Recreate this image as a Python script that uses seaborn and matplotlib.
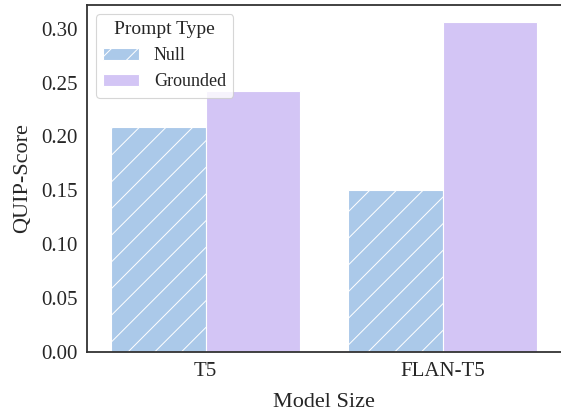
import pandas as pd
import matplotlib
matplotlib.use("Agg")
import matplotlib.pyplot as plt
import seaborn as sns

models = ["T5", "FLAN-T5"]
prompt_types = ["Null", "Grounded"]
null_scores = [0.209, 0.150]
grounded_scores = [0.242, 0.306]
colors = ["#abc9e9", "#d3c5f5"]

df = pd.DataFrame({
    "Model Size": models * 2,
    "Prompt Type": ["Null"] * len(models) + ["Grounded"] * len(models),
    "QUIP-Score": null_scores + grounded_scores,
})

DPI = 80
S = 100 / DPI  # scale so sizes read like a 100 dpi figure

sns.set_theme(style="white")
plt.rcParams["font.family"] = ["Liberation Serif", "DejaVu Serif"]
plt.rcParams["hatch.color"] = "white"
plt.rcParams["hatch.linewidth"] = 0.9
plt.rcParams["axes.edgecolor"] = "#333333"
plt.rcParams["axes.linewidth"] = 1.3 * S

fig, ax = plt.subplots(figsize=(561 / DPI, 412 / DPI), dpi=DPI)
sns.barplot(data=df, x="Model Size", y="QUIP-Score", hue="Prompt Type",
            palette=colors, saturation=1, edgecolor="white", linewidth=1,
            ax=ax)

# hatch the Null bars
for bar in ax.containers[0]:
    bar.set_hatch("/")

ax.set_xlim(-0.5, 1.5)
ax.set_ylim(0, 0.322)
ax.spines["right"].set_visible(False)
ax.tick_params(labelsize=15 * S, length=0)
ax.tick_params(axis="y", pad=7 * S)
ax.tick_params(axis="x", pad=7.5 * S)
ax.set_xlabel("Model Size", fontsize=16 * S, labelpad=8 * S)
ax.set_ylabel("QUIP-Score", fontsize=16 * S, labelpad=6 * S)
ax.set_yticks([0, 0.05, 0.10, 0.15, 0.20, 0.25, 0.30])
ax.set_yticklabels([f"{t:.2f}" for t in ax.get_yticks()])

leg = ax.legend(title="Prompt Type", fontsize=13 * S, title_fontsize=14 * S,
                loc="upper left")
leg.get_patches()[0].set_hatch("/")

fig.subplots_adjust(left=87 / 561, right=1.0, bottom=60 / 412, top=407 / 412)
plt.savefig("out.png", dpi=DPI)
